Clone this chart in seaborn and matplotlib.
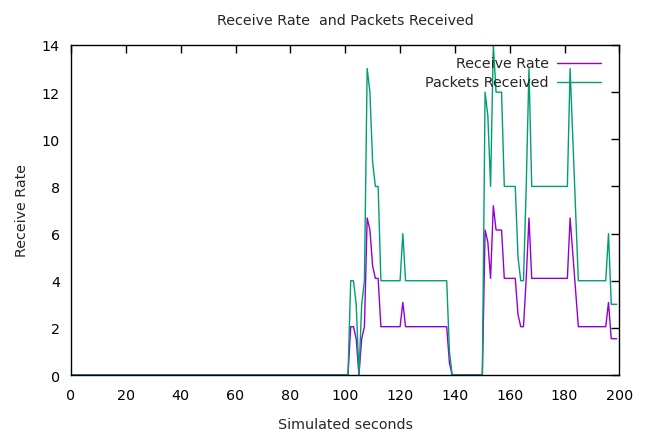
import matplotlib
matplotlib.use("Agg")
import matplotlib.pyplot as plt
import seaborn as sns
import pandas as pd

# Per-second samples from the simulation trace
seconds = list(range(200))

packets_received = (
    [0, 0, 0, 0, 0, 0, 0, 0, 0, 0, 0, 0, 0, 0, 0, 0, 0, 0, 0, 0,
     0, 0, 0, 0, 0, 0, 0, 0, 0, 0, 0, 0, 0, 0, 0, 0, 0, 0, 0, 0,
     0, 0, 0, 0, 0, 0, 0, 0, 0, 0, 0, 0, 0, 0, 0, 0, 0, 0, 0, 0,
     0, 0, 0, 0, 0, 0, 0, 0, 0, 0, 0, 0, 0, 0, 0, 0, 0, 0, 0, 0,
     0, 0, 0, 0, 0, 0, 0, 0, 0, 0, 0, 0, 0, 0, 0, 0, 0, 0, 0, 0,
     0, 0, 4, 4, 3, 0, 3, 4, 13, 12, 9, 8, 8, 4, 4, 4, 4, 4, 4, 4,
     4, 6, 4, 4, 4, 4, 4, 4, 4, 4, 4, 4, 4, 4, 4, 4, 4, 4, 1, 0,
     0, 0, 0, 0, 0, 0, 0, 0, 0, 0, 0, 12, 11, 8, 14, 12, 12, 12, 8, 8,
     8, 8, 8, 5, 4, 4, 8, 13, 8, 8, 8, 8, 8, 8, 8, 8, 8, 8, 8, 8,
     8, 8, 13, 10, 7, 4, 4, 4, 4, 4, 4, 4, 4, 4, 4, 4, 6, 3, 3, 3]
)

receive_rate = (
    [0, 0, 0, 0, 0, 0, 0, 0, 0, 0, 0, 0, 0, 0, 0, 0, 0, 0, 0, 0,
     0, 0, 0, 0, 0, 0, 0, 0, 0, 0, 0, 0, 0, 0, 0, 0, 0, 0, 0, 0,
     0, 0, 0, 0, 0, 0, 0, 0, 0, 0, 0, 0, 0, 0, 0, 0, 0, 0, 0, 0,
     0, 0, 0, 0, 0, 0, 0, 0, 0, 0, 0, 0, 0, 0, 0, 0, 0, 0, 0, 0,
     0, 0, 0, 0, 0, 0, 0, 0, 0, 0, 0, 0, 0, 0, 0, 0, 0, 0, 0, 0,
     0, 0, 2.05, 2.05, 1.54, 0, 1.54, 2.05, 6.66, 6.15, 4.61, 4.10, 4.10, 2.05, 2.05, 2.05, 2.05, 2.05, 2.05, 2.05,
     2.05, 3.08, 2.05, 2.05, 2.05, 2.05, 2.05, 2.05, 2.05, 2.05, 2.05, 2.05, 2.05, 2.05, 2.05, 2.05, 2.05, 2.05, 0.51, 0,
     0, 0, 0, 0, 0, 0, 0, 0, 0, 0, 0, 6.15, 5.64, 4.10, 7.18, 6.15, 6.15, 6.15, 4.10, 4.10,
     4.10, 4.10, 4.10, 2.56, 2.05, 2.05, 4.10, 6.66, 4.10, 4.10, 4.10, 4.10, 4.10, 4.10, 4.10, 4.10, 4.10, 4.10, 4.10, 4.10,
     4.10, 4.10, 6.66, 5.13, 3.59, 2.05, 2.05, 2.05, 2.05, 2.05, 2.05, 2.05, 2.05, 2.05, 2.05, 2.05, 3.08, 1.54, 1.54, 1.54]
)

series_names = ["Receive Rate", "Packets Received"]
series_colors = ["#9400d3", "#009e73"]

df = pd.concat([
    pd.DataFrame({"t": seconds, "value": receive_rate, "series": series_names[0]}),
    pd.DataFrame({"t": seconds, "value": packets_received, "series": series_names[1]}),
])

sns.set_style("white")
plt.rcParams["font.family"] = ["DejaVu Sans"]
FS = 10.3

fig = plt.figure(figsize=(6.49, 4.35), dpi=100)
ax = fig.add_axes([0.1094, 0.1356, 0.8451, 0.7587])

sns.lineplot(data=df, x="t", y="value", hue="series", hue_order=series_names,
             palette=series_colors, linewidth=1.0, legend=False, ax=ax,
             estimator=None, sort=True)

ax.set_xlim(0, 200)
ax.set_ylim(0, 14)
ax.set_xticks(range(0, 201, 20))
ax.set_yticks(range(0, 15, 2))
ax.tick_params(direction="in", top=True, right=True, length=6, width=1,
               labelsize=FS, colors="black")
ax.tick_params(axis="x", pad=9)
ax.tick_params(axis="y", pad=8)
for s in ax.spines.values():
    s.set_color("black")
    s.set_linewidth(1)

ax.set_xlabel("Simulated seconds", fontsize=FS, labelpad=11)
ax.set_ylabel("Receive Rate", fontsize=FS, labelpad=9)
ax.set_title("Receive Rate  and Packets Received", fontsize=FS, pad=15)

# gnuplot-style key: right-aligned labels followed by line samples
key_y = [0.9455, 0.8888]
for name, color, y in zip(series_names, series_colors, key_y):
    ax.text(0.8715, y, name, transform=ax.transAxes, ha="right", va="center", fontsize=FS)
    ax.plot([0.8855, 0.9663], [y, y], transform=ax.transAxes, color=color,
            linewidth=1.0, clip_on=False)

fig.savefig("out.png", dpi=100)
